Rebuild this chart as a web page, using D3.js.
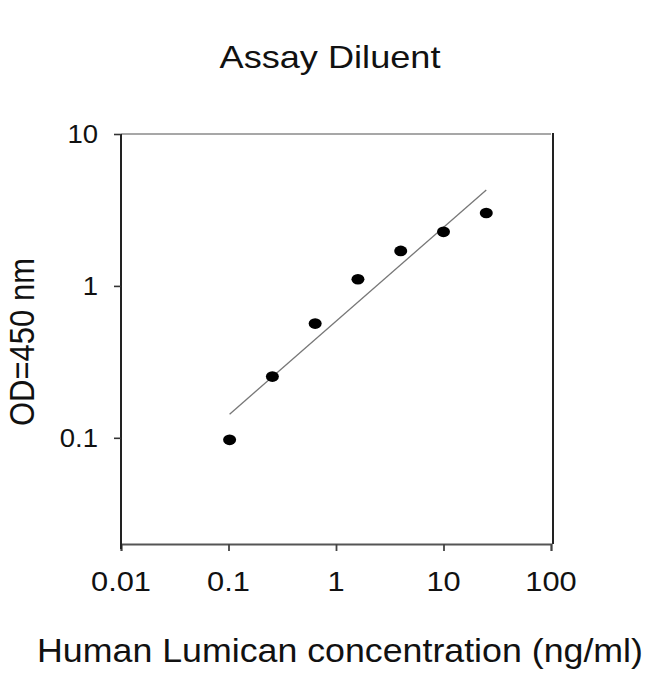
<!DOCTYPE html>
<html>
<head>
<meta charset="utf-8">
<script src="https://cdn.jsdelivr.net/npm/d3@7"></script>
<style>
  body { margin: 0; background: #fff; }
  text { font-family: "Liberation Sans", Arial, sans-serif; fill: #111; }
</style>
</head>
<body>
<div id="chart"></div>
<script>
// standard curve values
var concentration = [0.1024, 0.256, 0.64, 1.6, 4, 10, 25];
var odValues = [0.097, 0.253, 0.565, 1.107, 1.70, 2.27, 3.02];
var fitX = [0.1024, 25];
var fitY = [0.143, 4.28];
var xTicks = [0.01, 0.1, 1, 10, 100];
var yTicks = [0.1, 1, 10];
var xTickLabels = ["0.01", "0.1", "1", "10", "100"];
var yTickLabels = ["0.1", "1", "10"];

var width = 650, height = 674;

var svg = d3.select("#chart").append("svg")
    .attr("width", width)
    .attr("height", height);

var x = d3.scaleLog().domain([0.01, 100]).range([121, 551]);
var y = d3.scaleLog().domain([0.02, 10]).range([544, 134]);

// frame: top thin gray, right dark
svg.append("line")
    .attr("x1", x.range()[0]).attr("x2", x.range()[1])
    .attr("y1", y.range()[1]).attr("y2", y.range()[1])
    .attr("stroke", "#8a8a8a").attr("stroke-width", 1.6);
svg.append("line")
    .attr("x1", x.range()[1] + 2).attr("x2", x.range()[1] + 2)
    .attr("y1", y.range()[1] - 1).attr("y2", y.range()[0])
    .attr("stroke", "#222").attr("stroke-width", 2);

// x axis
var xAxis = svg.append("g")
    .attr("transform", "translate(0," + y.range()[0] + ")")
    .call(d3.axisBottom(x).tickValues(xTicks).tickSize(7).tickFormat(""));
xAxis.select(".domain").attr("stroke", "#555").attr("stroke-width", 1.8);
xAxis.selectAll(".tick line").attr("stroke", "#444").attr("stroke-width", 1.8);

// y axis
var yAxis = svg.append("g")
    .attr("transform", "translate(" + x.range()[0] + ",0)")
    .call(d3.axisLeft(y).tickValues(yTicks).tickSize(7).tickFormat(""));
yAxis.select(".domain").attr("stroke", "#222").attr("stroke-width", 2)
    .attr("d", "M0," + (y.range()[0] + 5) + "V" + y.range()[1]);
yAxis.selectAll(".tick line").attr("stroke", "#333").attr("stroke-width", 1.6);

// tick labels (source picture is slightly stretched horizontally)
svg.selectAll(".xlab")
    .data(xTicks)
    .enter()
    .append("text")
    .attr("class", "xlab")
    .attr("transform", function (d) {
        return "translate(" + x(d) + ",591) scale(1.1,1)";
    })
    .attr("text-anchor", "middle")
    .attr("font-size", 28)
    .text(function (d, i) { return xTickLabels[i]; });

svg.selectAll(".ylab")
    .data(yTicks)
    .enter()
    .append("text")
    .attr("class", "ylab")
    .attr("transform", function (d) {
        return "translate(98," + (y(d) + 9) + ") scale(1.1,1)";
    })
    .attr("text-anchor", "end")
    .attr("font-size", 25)
    .text(function (d, i) { return yTickLabels[i]; });

// fitted line
var line = d3.line()
    .x(function (d) { return x(d[0]); })
    .y(function (d) { return y(d[1]); });
svg.append("path")
    .datum(d3.zip(fitX, fitY))
    .attr("d", line)
    .attr("fill", "none")
    .attr("stroke", "#777")
    .attr("stroke-width", 1.3);

// points
svg.selectAll(".pt")
    .data(d3.zip(concentration, odValues))
    .enter()
    .append("ellipse")
    .attr("class", "pt")
    .attr("cx", function (d) { return x(d[0]); })
    .attr("cy", function (d) { return y(d[1]); })
    .attr("rx", 6.5)
    .attr("ry", 5.3)
    .attr("fill", "#000");

// titles
svg.append("text")
    .attr("transform", "translate(330,68) scale(1.13,1)")
    .attr("text-anchor", "middle")
    .attr("font-size", 32)
    .text("Assay Diluent");

svg.append("text")
    .attr("transform", "translate(340,662) scale(1.1,1)")
    .attr("text-anchor", "middle")
    .attr("font-size", 32.5)
    .text("Human Lumican concentration (ng/ml)");

svg.append("text")
    .attr("transform", "translate(34,342) scale(1.12,1) rotate(-90)")
    .attr("text-anchor", "middle")
    .attr("font-size", 31)
    .text("OD=450 nm");
</script>
</body>
</html>
